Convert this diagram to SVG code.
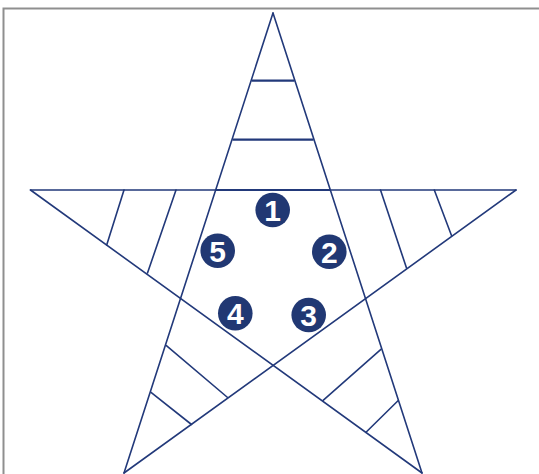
<svg xmlns="http://www.w3.org/2000/svg" width="539" height="474" viewBox="0 0 539 474">
<style>
.frame{fill:none;stroke:#8f8f8f;stroke-width:2}
.ln{stroke:#22397a;stroke-width:1.6;fill:none;stroke-linecap:round}
.hl{stroke:#22397a;stroke-width:2.2;fill:none}
.node circle{fill:#213873}
.node text{fill:#ffffff;font-family:"Liberation Sans",Arial,sans-serif;font-weight:bold;font-size:30px;text-anchor:middle}
</style>
<rect width="539" height="474" fill="#ffffff"/>
<rect class="frame" x="3.5" y="8.5" width="560" height="500"/>
<g id="connectors">
  <line class="ln" x1="30.5" y1="190" x2="516" y2="190"/>
  <line class="hl" x1="216" y1="190" x2="330" y2="190"/>
  <line class="ln" x1="273" y1="13" x2="124" y2="473"/>
  <line class="ln" x1="273" y1="13" x2="422" y2="473"/>
  <line class="ln" x1="30.5" y1="190" x2="422" y2="473"/>
  <line class="ln" x1="516" y1="190" x2="124" y2="473"/>
  <line class="hl" x1="251.5" y1="80.7" x2="294.5" y2="80.7"/>
  <line class="hl" x1="232.5" y1="139.7" x2="313.5" y2="139.7"/>
  <line class="ln" x1="124" y1="190" x2="106.7" y2="245"/>
  <line class="ln" x1="176" y1="190" x2="147.5" y2="273"/>
  <line class="ln" x1="380.5" y1="190" x2="406.5" y2="268"/>
  <line class="ln" x1="434.3" y1="190" x2="451.5" y2="235.5"/>
  <line class="ln" x1="166.4" y1="345.7" x2="227.6" y2="397.5"/>
  <line class="ln" x1="151" y1="392.3" x2="191.5" y2="424.5"/>
  <line class="ln" x1="380.9" y1="349.3" x2="323.1" y2="400.3"/>
  <line class="ln" x1="398" y1="400.7" x2="366" y2="432.3"/>
</g>
<g id="n1" class="node"><circle cx="272.7" cy="210" r="17.3"/><text x="272.7" y="220.8">1</text></g>
<g id="n2" class="node"><circle cx="329.3" cy="251.7" r="17.3"/><text x="329.3" y="262.5">2</text></g>
<g id="n3" class="node"><circle cx="308.7" cy="315" r="17.3"/><text x="308.7" y="325.8">3</text></g>
<g id="n4" class="node"><circle cx="235.3" cy="313.3" r="17.3"/><text x="235.3" y="324.1">4</text></g>
<g id="n5" class="node"><circle cx="217.7" cy="250.7" r="17.3"/><text x="217.7" y="261.5">5</text></g>
</svg>
